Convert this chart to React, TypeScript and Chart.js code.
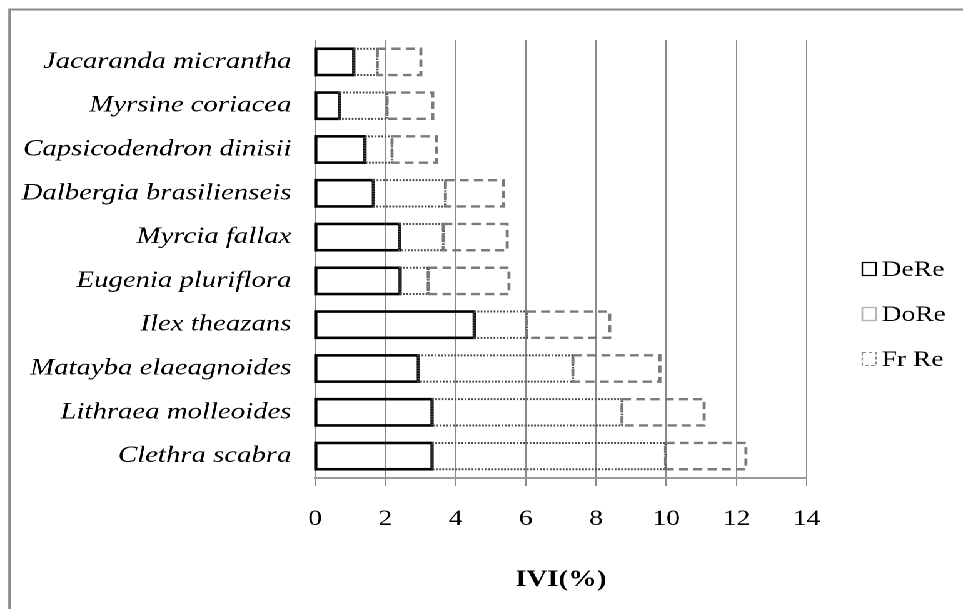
import React, { useEffect, useRef } from "react";
import { Chart, registerables } from "chart.js";

Chart.register(...registerables);

// ---- data ----
const species = [
  "Jacaranda micrantha",
  "Myrsine coriacea",
  "Capsicodendron dinisii",
  "Dalbergia brasilienseis",
  "Myrcia fallax",
  "Eugenia pluriflora",
  "Ilex theazans",
  "Matayba elaeagnoides",
  "Lithraea molleoides",
  "Clethra scabra",
];
const seriesNames = ["DeRe", "DoRe", "Fr Re"];
const deRe = [1.1, 0.7, 1.42, 1.66, 2.4, 2.42, 4.53, 2.94, 3.33, 3.33];
const doRe = [0.67, 1.35, 0.77, 2.05, 1.25, 0.8, 1.5, 4.4, 5.41, 6.65];
const frRe = [1.24, 1.3, 1.26, 1.65, 1.82, 2.3, 2.36, 2.48, 2.34, 2.29];
const xMin = 0;
const xMax = 14;
const xStep = 2;
const axisTitle = "IVI(%)";

// ---- layout / style ----
const W = 770;
const H = 609;
const STRETCH = 963 / W;
const SERIF = "'Liberation Serif', 'Times New Roman', serif";

const outlineStyles = [
  { color: "#000000", width: 2.6, dash: [] as number[] },
  { color: "#4a4a4a", width: 2, dash: [1.4, 1.2] },
  { color: "#7a7a7a", width: 2.4, dash: [7.2, 4.2] },
];
const legendBoxStyles = [
  { color: "#000000", width: 1.2, dash: [] as number[] },
  { color: "#b5b5b5", width: 1.4, dash: [] as number[] },
  { color: "#8a8a8a", width: 1.1, dash: [3, 2] },
];

const framePlugin = {
  id: "frame",
  beforeDraw(chart: any) {
    const ctx = chart.ctx;
    ctx.save();
    ctx.fillStyle = "#ffffff";
    ctx.fillRect(0, 0, chart.width, chart.height);
    ctx.strokeStyle = "#8a8a8a";
    ctx.lineWidth = 2;
    ctx.strokeRect(7.6, 9.5, chart.width + 50, chart.height + 50);
    ctx.restore();
  },
};

const outlinePlugin = {
  id: "barOutlines",
  afterDatasetsDraw(chart: any) {
    const ctx = chart.ctx;
    chart.data.datasets.forEach((_ds: any, i: number) => {
      const meta = chart.getDatasetMeta(i);
      const st = outlineStyles[i];
      ctx.save();
      ctx.strokeStyle = st.color;
      ctx.lineWidth = st.width;
      ctx.setLineDash(st.dash);
      meta.data.forEach((el: any) => {
        const { x, y, base, height } = el.getProps(["x", "y", "base", "height"], true);
        const left = Math.min(base, x);
        const w = Math.abs(x - base);
        ctx.strokeRect(left, y - height / 2, w, height);
      });
      ctx.restore();
    });
  },
};

const legendPlugin = {
  id: "customLegend",
  afterDraw(chart: any) {
    const ctx = chart.ctx;
    const boxX = chart.chartArea.right + 44;
    const textX = boxX + 16;
    ctx.save();
    ctx.font = `22px ${SERIF}`;
    ctx.fillStyle = "#000";
    ctx.textBaseline = "alphabetic";
    ctx.textAlign = "left";
    seriesNames.forEach((name, i) => {
      const base = 276 + i * 45;
      const st = legendBoxStyles[i];
      ctx.strokeStyle = st.color;
      ctx.lineWidth = st.width;
      ctx.setLineDash(st.dash);
      ctx.strokeRect(boxX + 0.5, base - 14 + 0.5, 11, 13);
      ctx.setLineDash([]);
      ctx.fillText(name, textX, base);
    });
    ctx.restore();
  },
};

export default function App() {
  const ref = useRef<HTMLCanvasElement | null>(null);

  useEffect(() => {
    if (!ref.current) return;
    const chart = new Chart(ref.current, {
      type: "bar",
      data: {
        labels: species,
        datasets: [deRe, doRe, frRe].map((values, i) => ({
          label: seriesNames[i],
          data: values,
          backgroundColor: "rgba(0,0,0,0)",
          borderWidth: 0,
          stack: "ivi",
          barPercentage: 0.6,
          categoryPercentage: 1,
        })),
      },
      options: {
        indexAxis: "y",
        responsive: false,
        animation: false,
        devicePixelRatio: 2,
        layout: { padding: { top: 40, right: 125, left: 0, bottom: 0 } },
        plugins: {
          legend: { display: false },
          tooltip: { enabled: false },
          title: { display: false },
        },
        scales: {
          x: {
            type: "linear",
            stacked: true,
            min: xMin,
            max: xMax,
            ticks: {
              stepSize: xStep,
              color: "#000",
              font: { family: SERIF, size: 22 },
              padding: 20,
            },
            grid: {
              color: "#8a8a8a",
              lineWidth: 1,
              drawTicks: true,
              tickLength: 8,
              tickColor: "#8a8a8a",
            },
            border: { display: true, color: "#9a9a9a", width: 2 },
            title: {
              display: true,
              text: axisTitle,
              color: "#000",
              font: { family: SERIF, size: 23, weight: "bold" },
              padding: { top: 0, bottom: 15 },
            },
            afterFit(scale: any) {
              scale.height = 131;
            },
          },
          y: {
            stacked: true,
            grid: { display: false, drawTicks: false },
            border: { display: false },
            ticks: {
              color: "#000",
              font: { family: SERIF, size: 23, style: "italic" },
              padding: 19,
            },
            afterFit(scale: any) {
              scale.width = 252;
            },
          },
        },
      },
      plugins: [framePlugin, outlinePlugin, legendPlugin],
    });
    return () => chart.destroy();
  }, []);

  return (
    <div
      style={{
        position: "fixed",
        left: 0,
        top: 0,
        width: W,
        height: H,
        background: "#fff",
        transform: `scaleX(${STRETCH})`,
        transformOrigin: "0 0",
      }}
    >
      <canvas ref={ref} width={W} height={H} />
    </div>
  );
}
